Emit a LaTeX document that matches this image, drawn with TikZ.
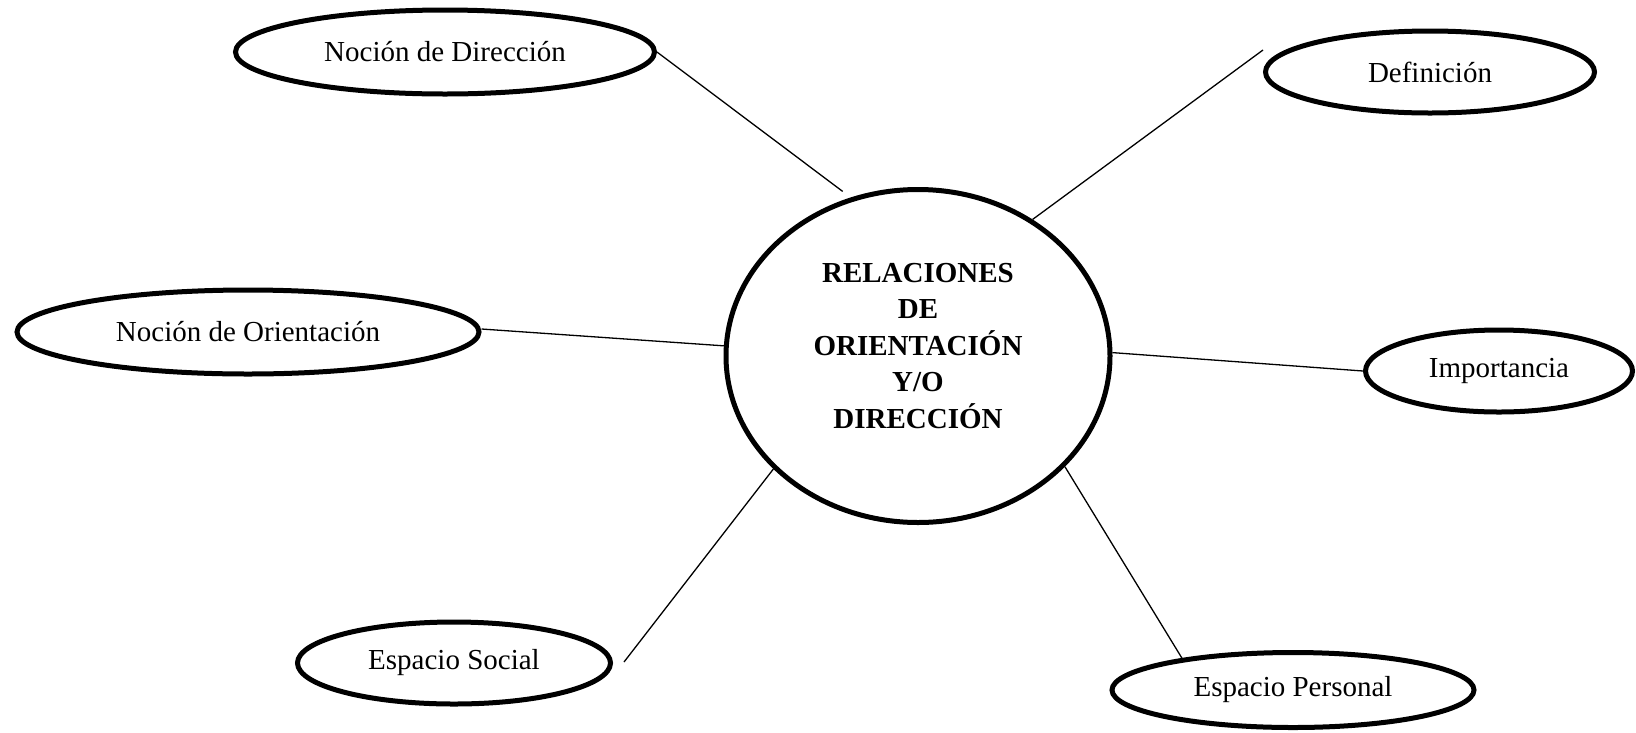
\documentclass[tikz,border=0pt]{standalone}
\usepackage{fontspec}
\setmainfont{Liberation Serif}
\usetikzlibrary{shapes.geometric}
\tikzset{
  oval/.style={draw, ellipse, line width=5pt, inner sep=0pt,
    font=\fontsize{29}{36}\selectfont},
  link/.style={draw, line width=1.3pt},
  maintext/.style={align=center, inner sep=0pt,
    font=\fontsize{29}{36.5}\selectfont\bfseries}
}
\begin{document}
\begin{tikzpicture}[x=1pt,y=-1pt]
\useasboundingbox (0,0) rectangle (1636,732);
\node[oval, minimum width=384pt, minimum height=333pt] (c) at (918,356) {};
\node[maintext] (ct) at (918,346) {RELACIONES\\DE\\ORIENTACIÓN\\Y/O\\DIRECCIÓN};
\node[oval, minimum width=419pt, minimum height=84pt] (nd) at (445,52) {Noción de Dirección};
\node[oval, minimum width=329pt, minimum height=82pt] (def) at (1430,72) {Definición};
\node[oval, minimum width=462pt, minimum height=84pt] (no) at (248,332) {Noción de Orientación};
\node[oval, minimum width=267pt, minimum height=82pt] (imp) at (1499,371) {Importancia};
\node[oval, minimum width=313pt, minimum height=82pt] (es) at (454,663) {Espacio Social};
\node[oval, minimum width=362pt, minimum height=75pt] (ep) at (1293,690) {Espacio Personal};
\draw[link, shorten >=10pt] (nd.east) -- (c.113);
\draw[link] ([yshift=22pt]def.west) -- (c.50.6);
\draw[link] ([yshift=3pt]no.east) -- (c.177.4);
\draw[link] (c.1.8) -- (imp.west);
\draw[link] (c.-142.4) -- ([xshift=11pt,yshift=1pt]es.east);
\draw[link] (c.-37.3) -- (ep.164);
\end{tikzpicture}
\end{document}
